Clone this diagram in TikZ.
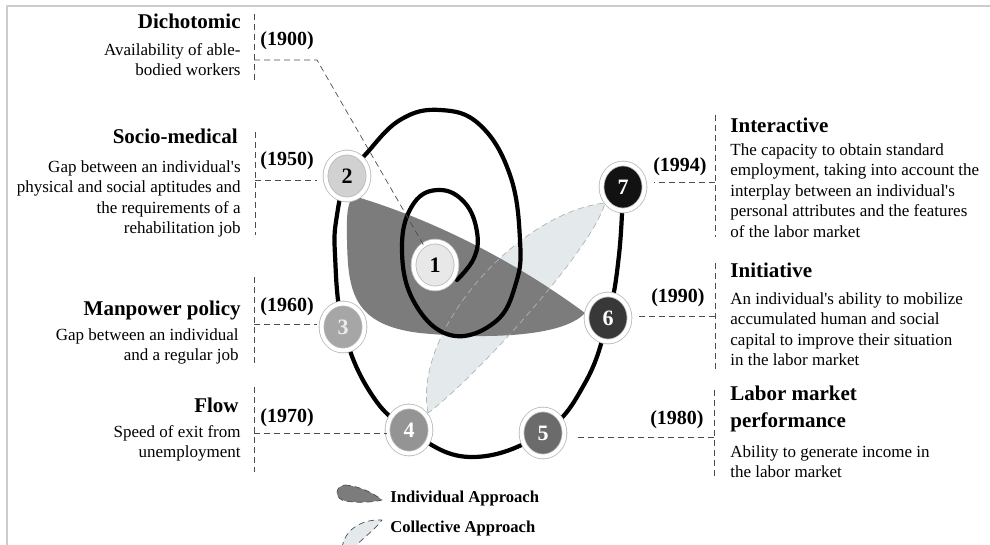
\documentclass[tikz,border=0pt]{standalone}
\usepackage{fontspec}
\setmainfont{Liberation Serif}
\usetikzlibrary{arrows.meta,calc,positioning,shapes.geometric}
\definecolor{indgray}{HTML}{7C7C7C}
\definecolor{colgray}{HTML}{E4E9EC}
\newcommand{\apos}{\textquotesingle}
\tikzset{stage/.style={ellipse,minimum width=21.5pt,minimum height=23.5pt,inner sep=0pt,font=\fontsize{11}{11}\selectfont\bfseries,draw=gray!55,double=white,double distance=2pt,line width=0.4pt}}
\tikzset{lead/.style={densely dashed,gray!60!black,line width=0.35pt}}
\tikzset{head/.style={font=\fontsize{10.5}{13.5}\selectfont\bfseries,inner sep=0pt},body/.style={font=\fontsize{8.5}{10.3}\selectfont,inner sep=0pt},yr/.style={font=\fontsize{10}{12}\selectfont\bfseries,inner sep=0pt}}

\begin{document}
\begin{tikzpicture}[x=0.5pt,y=-0.5pt,line join=round]
\useasboundingbox (0,0) rectangle (990,545);
\clip (0,0) rectangle (990,545);
\draw[gray!40,line width=1pt] (7,545) -- (7,6) -- (990,6);
% --- approaches
\fill[colgray] (428,413) .. controls (412,330) and (520,212) .. (605,203) .. controls (592,250) and (475,378) .. (428,413) -- cycle;
\fill[indgray] (357,197) .. controls (440,222) and (520,265) .. (585,313) .. controls (560,340) and (470,338) .. (420,333) .. controls (352,325) and (348,290) .. (347,240) .. controls (346,212) and (348,196) .. (357,197) -- cycle;
\draw[lead,gray!60] (428,413) .. controls (412,330) and (520,212) .. (605,203) .. controls (592,250) and (475,378) .. (428,413) -- cycle;
% --- spiral through the stages
\draw[line width=2.1pt,line cap=round] plot[smooth,tension=0.7] coordinates {(457,280) (474,258) (477,232) (465,203) (440,190) (414,203) (402,245) (413,300) (450,335) (495,322) (516,283) (520,240) (510,175) (480,125) (440,110) (400,120) (365,155) (347,176) (337,215) (335,255) (343,327) (370,392) (409,430) (470,457) (543,433) (585,383) (608,318) (619,255) (623,187)};
\foreach \n/\px/\py/\fc/\tc in {1/435/265/black!9/black,2/347/176/black!18/black,3/343/327/black!35/black!8,4/409/430/black!42/white,5/543/433/black!58/white,6/608/318/black!78/white,7/623/187/black!93/white}
  \node[stage,fill=\fc,text=\tc] (c\n) at (\px,\py) {\n};
% --- left side
\draw[lead] (254,14) -- (254,82) (255,132) -- (255,235) (254,277) -- (254,365) (254,387) -- (254,472);
\coordinate (k1) at (254,60); \coordinate (k1b) at (317,60);
\coordinate (k2) at (255,180); \coordinate (k3) at (254,324); \coordinate (k4) at (254,433);
\draw[lead] (k1) -- (k1b) -- (c1);
\draw[lead,shorten >=4pt] (k2) -- (k2 -| c2.west);
\draw[lead,shorten >=2pt] (k3) -- (k3 -| c3.west);
\draw[lead] (k4) -- (k4 -| c4.west);
\node[head,anchor=east] (hDich) at (241,21) {Dichotomic};
\node[body,anchor=north east,align=right] (bDich) at (241,43) {Availability of able-\\bodied workers};
\node[yr,anchor=west] (y1900) at (260,41) {(1900)};
\node[head,anchor=east] (hSocio) at (238,136) {Socio-medical};
\node[body,anchor=north east,align=right] (bSocio) at (241,160) {Gap between an individual\apos s\\physical and social aptitudes and\\the requirements of a\\rehabilitation job};
\node[yr,anchor=west] (y1950) at (260,161) {(1950)};
\node[head,anchor=east] (hMan) at (241,310) {Manpower policy};
\node[body,anchor=north east,align=right] (bMan) at (239,328) {Gap between an individual\\and a regular job};
\node[yr,anchor=west] (y1960) at (260,307) {(1960)};
\node[head,anchor=east] (hFlow) at (239,405) {Flow};
\node[body,anchor=north east,align=right] (bFlow) at (241,425) {Speed of exit from\\unemployment};
\node[yr,anchor=west] (y1970) at (260,418) {(1970)};
% --- right side
\draw[lead] (715,115) -- (715,237) (715,263) -- (715,372) (714,390) -- (714,478);
\coordinate (k7) at (715,182); \coordinate (k6) at (715,316); \coordinate (k5) at (714,437);
\draw[lead,shorten >=4.5pt] (k7) -- (k7 -| c7.east);
\draw[lead,shorten >=4pt] (k6) -- (k6 -| c6.east);
\draw[lead,shorten >=6.5pt] (k5) -- (k5 -| c5.east);
\node[head,anchor=west] (hInter) at (730,125) {Interactive};
\node[body,anchor=north west,align=left] (bInter) at (730,143) {The capacity to obtain standard\\employment, taking into account the\\interplay between an individual\apos s\\personal attributes and the features\\of the labor market};
\node[yr,anchor=east] (y1994) at (707,167) {(1994)};
\node[head,anchor=west] (hInit) at (730,270) {Initiative};
\node[body,anchor=north west,align=left] (bInit) at (730,292) {An individual\apos s ability to mobilize\\accumulated human and social\\capital to improve their situation\\in the labor market};
\node[yr,anchor=east] (y1990) at (705,298) {(1990)};
\node[head,anchor=north west,align=left] (hLab) at (730,386) {Labor market\\performance};
\node[body,anchor=north west,align=left] (bLab) at (730,445) {Ability to generate income in\\the labor market};
\node[yr,anchor=east] (y1980) at (704,420) {(1980)};
% --- legend
\draw[lead,fill=indgray] (345,485) .. controls (360,486) and (375,494) .. (382,500) .. controls (370,503) and (350,503) .. (342,500) .. controls (334,496) and (336,486) .. (345,485) -- cycle;
\draw[lead,fill=colgray] (342,548) .. controls (345,527) and (365,519) .. (382,520) .. controls (375,530) and (360,540) .. (350,552);
\node[font=\fontsize{8.3}{10}\selectfont\bfseries,inner sep=0pt,anchor=west] (lInd) at (390,499) {Individual Approach};
\node[font=\fontsize{8.3}{10}\selectfont\bfseries,inner sep=0pt,anchor=west] (lCol) at (390,529) {Collective Approach};
\end{tikzpicture}
\end{document}
